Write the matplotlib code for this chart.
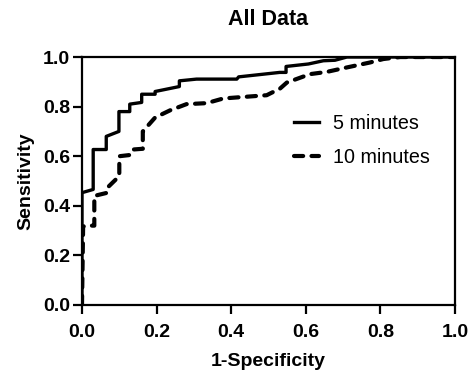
import numpy as np
import matplotlib as mpl
from matplotlib import pyplot as plt

mpl.rcParams['font.family'] = ['Liberation Sans', 'DejaVu Sans']

# ROC points (1-specificity, sensitivity)
fpr_5 = [0.0, 0.0, 0.03, 0.03, 0.065, 0.065, 0.099, 0.099, 0.128, 0.128, 0.16, 0.16,
         0.196, 0.196, 0.261, 0.261, 0.307, 0.415, 0.42, 0.53, 0.547, 0.547, 0.607,
         0.647, 0.678, 0.71, 1.0]
tpr_5 = [0.0, 0.453, 0.466, 0.627, 0.627, 0.68, 0.70, 0.78, 0.78, 0.81, 0.817, 0.85,
         0.85, 0.861, 0.881, 0.904, 0.911, 0.911, 0.92, 0.938, 0.938, 0.962, 0.972,
         0.985, 0.987, 1.0, 1.0]

fpr_10 = [0.0, 0.003, 0.013, 0.033, 0.033, 0.066, 0.066, 0.1, 0.1, 0.129, 0.136, 0.163,
          0.163, 0.196, 0.236, 0.28, 0.334, 0.379, 0.495, 0.531, 0.549, 0.611, 0.656,
          0.71, 0.772, 0.808, 0.853, 1.0]
tpr_10 = [0.0, 0.317, 0.32, 0.32, 0.44, 0.452, 0.47, 0.52, 0.60, 0.605, 0.627, 0.63,
          0.70, 0.756, 0.785, 0.81, 0.814, 0.833, 0.846, 0.873, 0.897, 0.931, 0.94,
          0.958, 0.978, 0.992, 1.0, 1.0]

ticks = [0.0, 0.2, 0.4, 0.6, 0.8, 1.0]

fig = plt.figure(figsize=(4.74, 3.74), dpi=100)
ax = fig.add_axes([0.173, 0.1845, 0.787, 0.663])

ax.plot(fpr_5, tpr_5, color='black', lw=2.4, label='5 minutes')
ax.plot(fpr_10, tpr_10, color='black', lw=3.0, ls=(0, (2.2, 2.0)),
        dash_capstyle='round', label='10 minutes')

ax.set_xlim(0, 1)
ax.set_ylim(0, 1)
ax.set_xticks(ticks)
ax.set_yticks(ticks)
ax.set_xticklabels([f'{t:.1f}' for t in ticks], fontweight='bold', fontsize=14)
ax.set_yticklabels([f'{t:.1f}' for t in ticks], fontweight='bold', fontsize=14)
ax.tick_params(direction='out', length=6.5, width=1.6)
ax.tick_params(axis='x', pad=7)
ax.tick_params(axis='y', pad=2)
for s in ax.spines.values():
    s.set_linewidth(1.6)

ax.set_xlabel('1-Specificity', fontweight='bold', fontsize=14, labelpad=9)
ax.set_ylabel('Sensitivity', fontweight='bold', fontsize=14, labelpad=6)
ax.set_title('All Data', fontweight='bold', fontsize=15.5, pad=23)

ax.legend(loc='upper left', bbox_to_anchor=(0.52, 0.843), frameon=False, fontsize=14.2,
          handlelength=1.3, labelspacing=0.75, handletextpad=0.7)

fig.savefig('out.png', dpi=100)
